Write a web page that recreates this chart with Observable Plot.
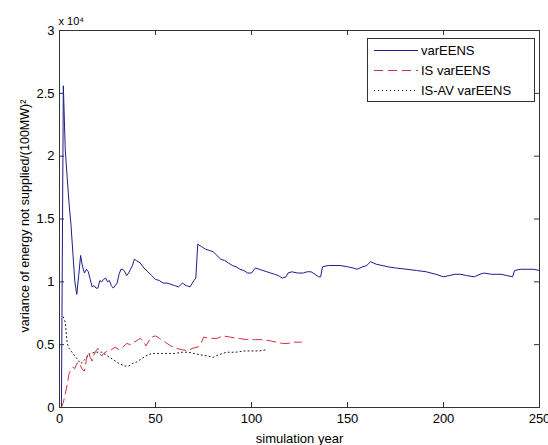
<!DOCTYPE html>
<html>
<head>
<meta charset="utf-8">
<script src="https://cdn.jsdelivr.net/npm/d3@7"></script>
<script src="https://cdn.jsdelivr.net/npm/@observablehq/plot@0.6"></script>
<style>
  html, body { margin: 0; padding: 0; background: #fff; }
  svg { display: block; }
</style>
</head>
<body>
<div id="chart"></div>
<script>
// Values in units of 10^4
const varEENSYears = [1,2,3,4,5,6,7,8,9,10,11,12,13,14,15,16,17,18,19,20,21,22,23,24,25,26,27,28,29,30,31,32,33,34,35,36,37,38,39,40,42,44,46,48,50,52,54,56,58,60,62,64,66,68,70,71,72,74,76,78,80,82,84,86,88,90,92,94,96,98,100,102,104,106,108,110,112,114,116,118,119,121,124,127,129,131,133,135,136,137,140,143,146,150,153,155,158,160,162,165,168,171,175,181,186,191,196,200,203,206,209,212,216,219,221,225,230,233,236,237,240,244,247,250];
const varEENS = [0.0,2.56,2.05,1.83,1.62,1.45,1.22,1.0,0.90,1.05,1.21,1.12,1.07,1.10,1.08,1.02,0.96,0.97,0.95,0.95,1.01,1.00,1.02,1.03,1.0,1.01,0.97,0.95,0.97,0.99,1.06,1.10,1.10,1.08,1.05,1.07,1.10,1.13,1.18,1.17,1.15,1.11,1.08,1.05,1.02,1.01,0.99,0.99,0.98,0.97,0.96,0.99,0.97,0.96,1.01,1.03,1.30,1.28,1.26,1.25,1.24,1.21,1.18,1.17,1.15,1.13,1.12,1.10,1.09,1.07,1.07,1.11,1.10,1.09,1.08,1.07,1.06,1.05,1.03,1.04,1.07,1.08,1.07,1.07,1.08,1.08,1.06,1.04,1.04,1.12,1.13,1.13,1.13,1.12,1.11,1.10,1.12,1.13,1.16,1.14,1.13,1.12,1.11,1.10,1.09,1.08,1.06,1.04,1.05,1.06,1.06,1.05,1.04,1.06,1.07,1.06,1.06,1.05,1.04,1.09,1.10,1.10,1.10,1.09];

const isYears = [1,2,3,4,5,6,7,8,9,10,11,12,13,14,15,16,17,18,19,20,21,22,23,25,27,29,31,33,35,37,39,41,42,44,45,47,48,50,52,55,58,61,64,67,69,72,74,75,78,82,85,89,93,98,102,106,110,113,116,119,122,126];
const isVarEENS = [0.0,0.04,0.11,0.18,0.27,0.30,0.32,0.31,0.35,0.36,0.33,0.30,0.29,0.38,0.44,0.40,0.37,0.42,0.45,0.47,0.43,0.41,0.43,0.45,0.46,0.48,0.46,0.48,0.51,0.50,0.52,0.54,0.55,0.52,0.49,0.54,0.56,0.57,0.55,0.52,0.49,0.47,0.46,0.45,0.47,0.48,0.52,0.56,0.55,0.55,0.57,0.56,0.55,0.54,0.54,0.54,0.53,0.52,0.51,0.51,0.52,0.52];

const isavYears = [2,3,4,5,6,7,8,9,10,11,12,13,14,16,19,22,25,28,31,34,36,38,40,42,45,48,52,56,60,64,67,70,73,77,80,83,87,92,96,100,104,108];
const isavVarEENS = [0.72,0.68,0.51,0.47,0.45,0.43,0.41,0.39,0.37,0.35,0.36,0.38,0.40,0.43,0.44,0.44,0.41,0.38,0.35,0.33,0.33,0.35,0.36,0.38,0.41,0.43,0.43,0.43,0.43,0.44,0.44,0.43,0.42,0.41,0.40,0.42,0.44,0.44,0.45,0.45,0.45,0.46];

const seriesNames = ["varEENS", "IS varEENS", "IS-AV varEENS"];
const seriesColors = ["#1c1c8e", "#d0303c", "#111111"];
const seriesDash = [null, "9,5", "1,3"];

const xTicks = [0, 50, 100, 150, 200, 250];
const yTicks = [0, 0.5, 1, 1.5, 2, 2.5, 3];

const xLabel = "simulation year";
const yLabel = "variance of energy not supplied/(100MW)²";
const expLabel = "x 10⁴";

const toRows = (xs, ys) => xs.map((x, i) => ({x, y: ys[i]}));
const series = [toRows(varEENSYears, varEENS), toRows(isYears, isVarEENS), toRows(isavYears, isavVarEENS)];

const W = 548, H = 445;
const mL = 59, mR = 9, mT = 30, mB = 38;
const innerW = W - mL - mR, innerH = H - mT - mB;
const tk = 5;
const axisColor = "#333";

const svg = Plot.plot({
  width: W, height: H,
  marginLeft: mL, marginRight: mR, marginTop: mT, marginBottom: mB,
  style: {fontFamily: "'Liberation Sans', Arial, sans-serif", fontSize: "13px", background: "#fff", color: "#000"},
  x: {domain: [0, 250], ticks: xTicks},
  y: {domain: [0, 3], ticks: yTicks},
  marks: [
    Plot.axisX(xTicks, {tickSize: 0, tickPadding: 6, label: null, fontSize: 13, tickFormat: d => String(d)}),
    Plot.axisY(yTicks, {tickSize: 0, tickPadding: 5, label: null, fontSize: 13, tickFormat: d => String(d)}),
    // inward ticks on all four sides
    Plot.tickX(xTicks, {x: d => d, insetTop: innerH - tk, stroke: axisColor}),
    Plot.tickX(xTicks, {x: d => d, insetBottom: innerH - tk, stroke: axisColor}),
    Plot.tickY(yTicks, {y: d => d, insetRight: innerW - tk, stroke: axisColor}),
    Plot.tickY(yTicks, {y: d => d, insetLeft: innerW - tk, stroke: axisColor}),
    ...series.map((rows, i) => Plot.line(rows, {x: "x", y: "y", stroke: seriesColors[i], strokeWidth: 1, strokeDasharray: seriesDash[i]})),
    Plot.frame({stroke: axisColor}),
    Plot.text([xLabel], {frameAnchor: "bottom", dy: 31, lineAnchor: "middle", fontSize: 13}),
    Plot.text([yLabel], {frameAnchor: "left", textAnchor: "middle", rotate: -90, dx: -35, dy: -3, lineAnchor: "middle", fontSize: 12.5}),
    Plot.text([expLabel], {frameAnchor: "top-left", textAnchor: "start", dy: -9, dx: -1, lineAnchor: "middle", fontSize: 11})
  ]
});

// Legend (box in upper right, like MATLAB)
const g = d3.select(svg).append("g").attr("text-anchor", "start");
const lx = 367, ly = 38, lw = 167, lh = 63;
g.append("rect").attr("x", lx + 0.5).attr("y", ly + 0.5).attr("width", lw).attr("height", lh)
  .attr("fill", "#fff").attr("stroke", axisColor);
seriesNames.forEach((name, i) => {
  const yy = ly + 12 + i * 20;
  g.append("line").attr("x1", lx + 7).attr("x2", lx + 51).attr("y1", yy + 0.5).attr("y2", yy + 0.5)
    .attr("stroke", seriesColors[i]).attr("stroke-width", 1)
    .attr("stroke-dasharray", seriesDash[i]);
  g.append("text").attr("x", lx + 54).attr("y", yy).attr("dy", "0.35em")
    .attr("text-anchor", "start")
    .attr("font-size", 13).attr("fill", "#000").text(name);
});

document.getElementById("chart").appendChild(svg);
</script>
</body>
</html>
